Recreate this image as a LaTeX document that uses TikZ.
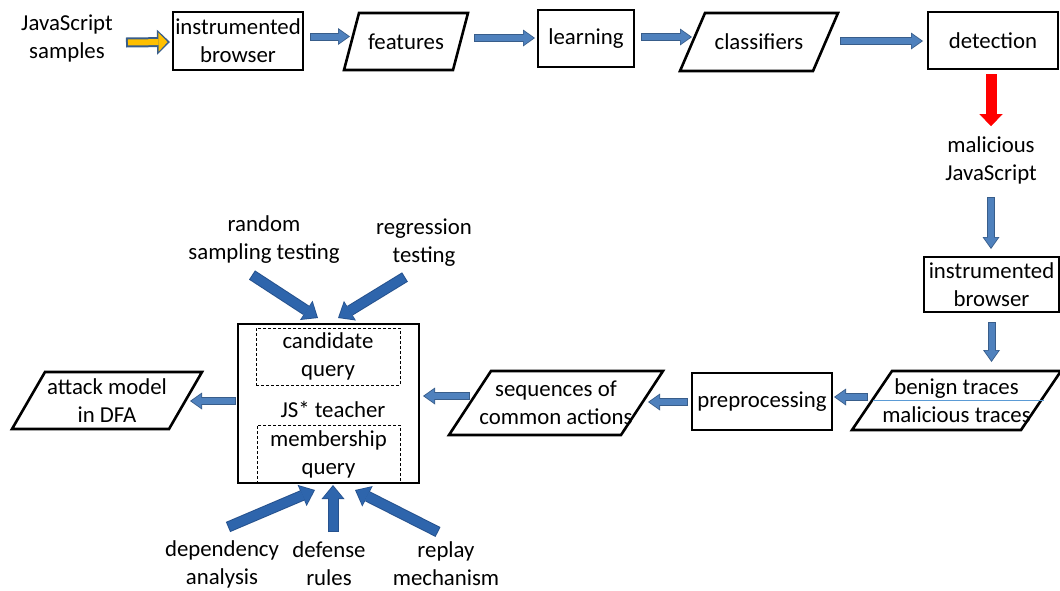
\documentclass[tikz,border=0pt]{standalone}
\usepackage{fontspec}
\setmainfont{Carlito}
\usetikzlibrary{arrows.meta,calc}

\definecolor{smallfill}{RGB}{79,129,189}
\definecolor{smalledge}{RGB}{56,93,138}
\definecolor{bigfill}{RGB}{46,101,172}
\definecolor{bigedge}{RGB}{38,82,142}
\definecolor{yellowfill}{RGB}{255,192,0}
\definecolor{splitline}{RGB}{91,155,213}

\tikzset{
  every node/.style={font=\fontsize{22.8}{28}\selectfont, inner sep=0pt, outer sep=0pt, align=center},
  box/.style={draw, line width=2.6pt},
  slanted/.style={draw=none},
  dashbox/.style={draw, line width=0.8pt, dash pattern=on 3pt off 2pt},
  % block arrows: a dark outline layer under a lighter body layer
  small edge/.style={line width=8pt, draw=smalledge, -{Triangle[length=12pt,width=17pt,line width=0pt]}},
  small body/.style={line width=6pt, draw=smallfill, shorten <=1pt, shorten >=1.5pt, -{Triangle[length=9.8pt,width=14pt,line width=0pt]}},
  big edge/.style={line width=11pt, draw=bigedge, -{Triangle[length=14pt,width=23pt,line width=0pt]}},
  big body/.style={line width=9pt, draw=bigfill, shorten <=1pt, shorten >=1.5pt, -{Triangle[length=11.8pt,width=20pt,line width=0pt]}},
  yellow edge/.style={line width=10pt, draw=smalledge, -{Triangle[length=13pt,width=25pt,line width=0pt]}},
  yellow body/.style={line width=6pt, draw=yellowfill, shorten <=2pt, shorten >=2.5pt, -{Triangle[length=9pt,width=19pt,line width=0pt]}},
  red edge/.style={line width=11pt, draw=red, -{Triangle[length=12pt,width=23pt,line width=0pt]}},
  red body/.style={line width=11pt, draw=red, -{Triangle[length=12pt,width=23pt,line width=0pt]}},
}

\newcommand\blockarrow[3]{%
  \draw[#1 edge] #2 -- #3;
  \draw[#1 body] #2 -- #3;
}
\newcommand\slantbox[2]{%
  \draw[line width=2.6pt, line join=miter]
    ($(#1.north west)+(#2,0)$) -- (#1.north east) -- ($(#1.south east)+(-#2,0)$) -- (#1.south west) -- cycle;
}

\begin{document}
\begin{tikzpicture}[x=1pt,y=-1pt]
\useasboundingbox (0,0) rectangle (1060,590);

% detection pipeline
\node (js) at (67,38) {JavaScript\\samples};
\node[box, minimum width=130pt, minimum height=58pt] (ib1) at (238,41) {instrumented\\browser};
\node[slanted, minimum width=124pt, minimum height=57pt] (feat) at (406,41.5) {features};
\slantbox{feat}{15}
\node[box, minimum width=96pt, minimum height=57pt] (learn) at (586,38.5) {learning};
\node[slanted, minimum width=158pt, minimum height=58pt] (cls) at (759,42) {classifiers};
\slantbox{cls}{25}
\node[box, minimum width=130pt, minimum height=57pt] (det) at (993,40.5) {detection};

\node (mal) at (991,160) {malicious\\JavaScript};
\node[box, minimum width=135pt, minimum height=55pt] (ib2) at (991.5,284.5) {instrumented\\browser};

% traces and learning loop
\node[slanted, minimum width=209pt, minimum height=59pt] (traces) at (956.5,400.5) {benign traces\\malicious traces};
\slantbox{traces}{40}
\draw[splitline, line width=0.8pt] ($(traces.west)+(21,0)$) -- ($(traces.east)+(-17,0)$);
\node[box, minimum width=140pt, minimum height=57pt] (pre) at (762,401.5) {preprocessing};
\node[slanted, minimum width=214pt, minimum height=64pt] (seq) at (556,403) {sequences of\\common actions};
\slantbox{seq}{42}

\node[box, minimum width=181pt, minimum height=159pt] (teacher) at (328.5,403.5) {};
\node[dashbox, minimum width=144pt, minimum height=57pt] (cand) at (328,356.5) {candidate\\query};
\node[dashbox, minimum width=143pt, minimum height=58pt] (memb) at (328.5,454) {membership\\query};
\node (jst) at (333,409) {JS* teacher};

\node[slanted, minimum width=190pt, minimum height=57pt] (atk) at (107,400.5) {attack model\\in DFA};
\slantbox{atk}{33}

\node (rnd) at (264,240) {random\\sampling testing};
\node (reg) at (424,243) {regression\\testing};
\node (dep) at (222,564) {dependency\\analysis};
\node (def) at (329,564) {defense\\rules};
\node (rep) at (446,564) {replay\\mechanism};

% connectors along the top row
\blockarrow{yellow}{($(js.center)+(59,4.5)$)}{($(ib1.west)+(-3,1)$)}
\blockarrow{small}{($(ib1.east)+(7,-4.5)$)}{($(feat.west)+(6,-5)$)}
\blockarrow{small}{($(feat.east)+(6,-3.5)$)}{($(learn.west)+(-3,-0.5)$)}
\blockarrow{small}{($(learn.east)+(7,-1.5)$)}{($(cls.west)+(12,-5)$)}
\blockarrow{small}{($(cls.east)+(2,-1)$)}{($(det.west)+(-5,0.5)$)}

% down the right side
\blockarrow{red}{($(det.south)+(-2,5)$)}{($(mal.center)+(0,-34)$)}
\blockarrow{small}{($(mal.center)+(0,37)$)}{($(ib2.north)+(-0.5,-8)$)}
\blockarrow{small}{($(ib2.south)+(0,10)$)}{($(traces.north)+(35,-9)$)}

% back along the bottom row
\blockarrow{small}{($(traces.west)+(16,-3.5)$)}{($(pre.east)+(2,-4.5)$)}
\blockarrow{small}{($(pre.west)+(-4,0.5)$)}{($(seq.east)+(-15,-1)$)}
\blockarrow{small}{($(seq.west)+(21,-7)$)}{($(teacher.east)+(4,-7.5)$)}
\blockarrow{small}{($(teacher.west)+(-2,-2.5)$)}{($(atk.east)+(-12,0.5)$)}

% inputs of the teacher
\blockarrow{big}{($(rnd.center)+(-12,35)$)}{($(teacher.north)+(-10.5,-6)$)}
\blockarrow{big}{($(reg.center)+(-19,34)$)}{($(teacher.north)+(9.5,-6)$)}
\blockarrow{big}{($(dep.center)+(6,-37)$)}{($(teacher.south)+(-13.5,7)$)}
\blockarrow{big}{($(def.center)+(4,-32)$)}{($(teacher.south)+(4.5,2)$)}
\blockarrow{big}{($(rep.center)+(-8,-32)$)}{($(teacher.south)+(26.5,7)$)}
\end{tikzpicture}
\end{document}
